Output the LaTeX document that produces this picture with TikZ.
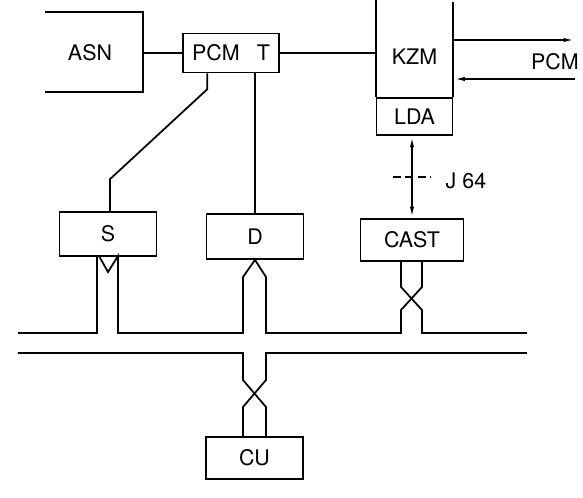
\documentclass[tikz,border=0pt]{standalone}
\usepackage{fontspec}
\setmainfont{TeX Gyre Heros}
\usetikzlibrary{arrows.meta,calc}

\begin{document}
\begin{tikzpicture}[x=0.02cm, y=-0.02cm, line width=1pt,
  every node/.style={font=\fontsize{12.2}{14}\selectfont},
  blk/.style={draw, rectangle, inner sep=0pt, minimum width=1.94cm},
  tip/.style={-{Latex[length=6.5pt,width=2.4pt]}}]
  \useasboundingbox (0,0) rectangle (583,498);

  % exchange (open bracket)
  \draw (45,12) -- (143,12) -- (143,92) -- (45,92);
  \node (asn) at (90,53) {ASN};
  \coordinate (asnR) at (143,53);

  % blocks
  \node[blk, minimum width=1.92cm, minimum height=0.78cm] (pcmt) at (231,53) {PCM\hspace{0.8em}T};
  \node[blk, minimum width=1.52cm, minimum height=0.74cm] (lda) at (414.5,116.5) {LDA};
  \node (kzm) at (414.5,57) {KZM};
  \node[blk, minimum height=0.88cm] (s) at (108,234) {S};
  \node[blk, minimum height=0.90cm] (d) at (255,236.5) {D};
  \node[blk, minimum width=2.06cm, minimum height=0.84cm] (cast) at (412,240) {CAST};
  \node[blk, minimum height=0.84cm] (cu) at (254.5,458) {CU};

  % KZM walls (open at the top)
  \draw (lda.north west) -- ++(0,-98);
  \draw (lda.north east) -- ++(0,-95);

  % links
  \draw (asnR) -- (pcmt.west);
  \draw (pcmt.east) -- (pcmt.east -| lda.west);
  \draw ($(pcmt.south west)+(25,0)$) -- ++(0,16) -- ($(s.north)+(2,-32)$) -- ($(s.north)+(2,0)$);
  \draw (d.north) -- (d.north |- pcmt.south);

  % PCM trunk
  \coordinate (outA) at (575,40);
  \coordinate (inB) at (575,79);
  \draw[tip] (outA -| lda.east) -- (outA);
  \draw[tip] (inB) -- (inB -| lda.east);
  \node (pcm) at (555,62) {PCM};

  % J 64
  \draw[{Latex[length=6.5pt,width=2.4pt]}-{Latex[length=6.5pt,width=2.4pt]}]
    (lda.south -| cast.north) -- (cast.north);
  \coordinate (j64) at ($(lda.south -| cast.north)!0.5!(cast.north)$);
  \draw[dash pattern=on 4.5pt off 2.5pt] ($(j64)+(-19,0)$) -- ($(j64)+(18,0)$);
  \node[anchor=west] (j64lbl) at (439,181) {J 64};

  % bus, upper line with S, D, CAST branches
  \draw (18,333) -- (97,333) -- (97,256);
  \draw (99,256) -- (108,272) -- (118,256) -- (118,333) -- (243,333) -- (243,277)
    -- (d.south) -- (266,277) -- (266,333) -- (401,333) -- (401,310) -- (422,287) -- (422,261);
  \draw (401,261) -- (401,287) -- (422,310) -- (422,333) -- (527,333);

  % bus, lower line with CU branch
  \draw (18,353) -- (243,353) -- (243,380) -- (266,407) -- (266,437);
  \draw (527,353) -- (266,353) -- (266,380) -- (243,407) -- (243,437);

\end{tikzpicture}
\end{document}
